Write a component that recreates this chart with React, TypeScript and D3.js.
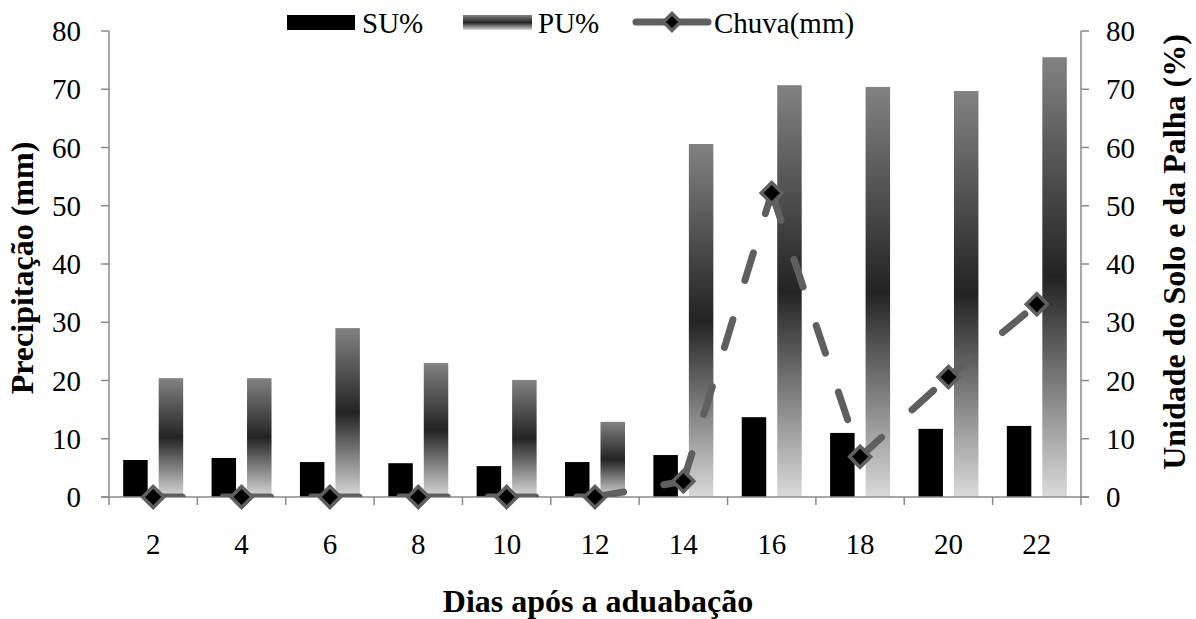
import React from "react";
import * as d3 from "d3";

const categories = ["2", "4", "6", "8", "10", "12", "14", "16", "18", "20", "22"];
const suValues = [6.35, 6.7, 6.0, 5.8, 5.3, 6.0, 7.2, 13.7, 11.0, 11.7, 12.2];
const puValues = [20.4, 20.4, 29.0, 23.0, 20.1, 12.9, 60.6, 70.7, 70.4, 69.7, 75.5];
const chuvaValues = [0, 0, 0, 0, 0, 0, 2.7, 52.2, 6.9, 20.6, 33.1];
const yTicks = [0, 10, 20, 30, 40, 50, 60, 70, 80];

const W = 1196;
const H = 619;
const left = 109;
const right = 1081;
const top = 31;
const bottom = 497;
const FONT = "Liberation Serif, Times New Roman, DejaVu Serif, serif";
const AXIS = "#8a8a8a";
const LINE = "#5f5f5f";

function diamond(cx: number, cy: number, r: number) {
  return `M${cx},${cy - r}L${cx + r},${cy}L${cx},${cy + r}L${cx - r},${cy}Z`;
}

export default function App() {
  const x = d3.scaleBand<string>().domain(categories).range([left, right]).paddingInner(0).paddingOuter(0);
  const x1 = d3.scaleBand<string>().domain(["SU", "PU"]).range([0, x.bandwidth()]).paddingInner(0.31).paddingOuter(0.4);
  const yR = d3.scaleLinear().domain([0, 80]).range([bottom, top]);
  const yL = d3.scaleLinear().domain([0, 80]).range([bottom, top]);
  const cx = (c: string) => (x(c) as number) + x.bandwidth() / 2;
  const pts = categories.map((c, i) => [cx(c), yL(chuvaValues[i])] as [number, number]);
  const lineGen = d3.line<[number, number]>();
  const boundaries = d3.range(categories.length + 1).map((k) => left + k * x.step());
  const ts: React.CSSProperties = { fontFamily: FONT };

  return (
    <svg width={W} height={H} style={{ position: "absolute", left: 0, top: 0, background: "#fff", fontFamily: FONT }}>
      <defs>
        <linearGradient id="puGrad" x1="0" y1="0" x2="0" y2="1">
          <stop offset="0" stopColor="#828282" />
          <stop offset="0.5" stopColor="#232323" />
          <stop offset="1" stopColor="#dadada" />
        </linearGradient>
        <clipPath id="plotClip">
          <rect x={left} y={0} width={right - left} height={bottom} />
        </clipPath>
      </defs>

      {categories.map((c, i) => (
        <g key={c}>
          <rect x={(x(c) as number) + (x1("SU") as number)} y={yR(suValues[i])} width={x1.bandwidth()} height={bottom - yR(suValues[i])} fill="#000" />
          <rect x={(x(c) as number) + (x1("PU") as number)} y={yR(puValues[i])} width={x1.bandwidth()} height={bottom - yR(puValues[i])} fill="url(#puGrad)" />
        </g>
      ))}

      <line x1={left} y1={top} x2={left} y2={bottom} stroke={AXIS} strokeWidth={1.5} />
      <line x1={right} y1={top} x2={right} y2={bottom} stroke={AXIS} strokeWidth={1.5} />
      <line x1={left - 8} y1={bottom} x2={right + 8} y2={bottom} stroke={AXIS} strokeWidth={1.5} />
      {yTicks.map((t) => (
        <g key={t}>
          <line x1={left - 8} y1={yL(t)} x2={left} y2={yL(t)} stroke={AXIS} strokeWidth={1.5} />
          <line x1={right} y1={yR(t)} x2={right + 8} y2={yR(t)} stroke={AXIS} strokeWidth={1.5} />
          <text style={ts} x={81} y={yL(t)} dy="0.35em" textAnchor="end" fontSize={29} fill="#000">{t}</text>
          <text style={ts} x={1106} y={yR(t)} dy="0.35em" textAnchor="start" fontSize={29} fill="#000">{t}</text>
        </g>
      ))}
      {boundaries.map((b, k) => (
        <line key={k} x1={b} y1={bottom} x2={b} y2={bottom + 8} stroke={AXIS} strokeWidth={1.5} />
      ))}
      {categories.map((c) => (
        <text style={ts} key={c} x={cx(c)} y={554} textAnchor="middle" fontSize={29} fill="#000">{c}</text>
      ))}

      <g clipPath="url(#plotClip)">
        {pts.slice(1).map((p, i) => (
          <path key={i} d={lineGen([pts[i], p]) as string} fill="none" stroke={LINE} strokeWidth={7} strokeLinecap="round" strokeDasharray="29 41" />
        ))}
      </g>
      {pts.map((p, i) => (
        <path key={i} d={diamond(p[0], p[1], 10.5)} fill="#000" stroke={LINE} strokeWidth={3.5} />
      ))}

      <text style={ts} transform="translate(33,268) rotate(-90)" textAnchor="middle" fontSize={32} fontWeight="bold" fill="#000">Precipitação (mm)</text>
      <text style={ts} transform="translate(1185,252) rotate(-90)" textAnchor="middle" fontSize={32} fontWeight="bold" fill="#000">Unidade do Solo e da Palha (%)</text>
      <text style={ts} x={598} y={612} textAnchor="middle" fontSize={32} fontWeight="bold" fill="#000">Dias após a aduabação</text>

      <rect x={287} y={15} width={68} height={15} fill="#000" />
      <text style={ts} x={362} y={33} fontSize={29} fill="#000">SU%</text>
      <rect x={463} y={15} width={69} height={15} fill="url(#puGrad)" />
      <text style={ts} x={538} y={33} fontSize={29} fill="#000">PU%</text>
      <line x1={636} y1={22} x2={708} y2={22} stroke={LINE} strokeWidth={7} strokeLinecap="round" />
      <path d={diamond(672, 22, 8.5)} fill="#000" stroke={LINE} strokeWidth={3.5} />
      <text style={ts} x={714} y={33} fontSize={29} fill="#000">Chuva(mm)</text>
    </svg>
  );
}
